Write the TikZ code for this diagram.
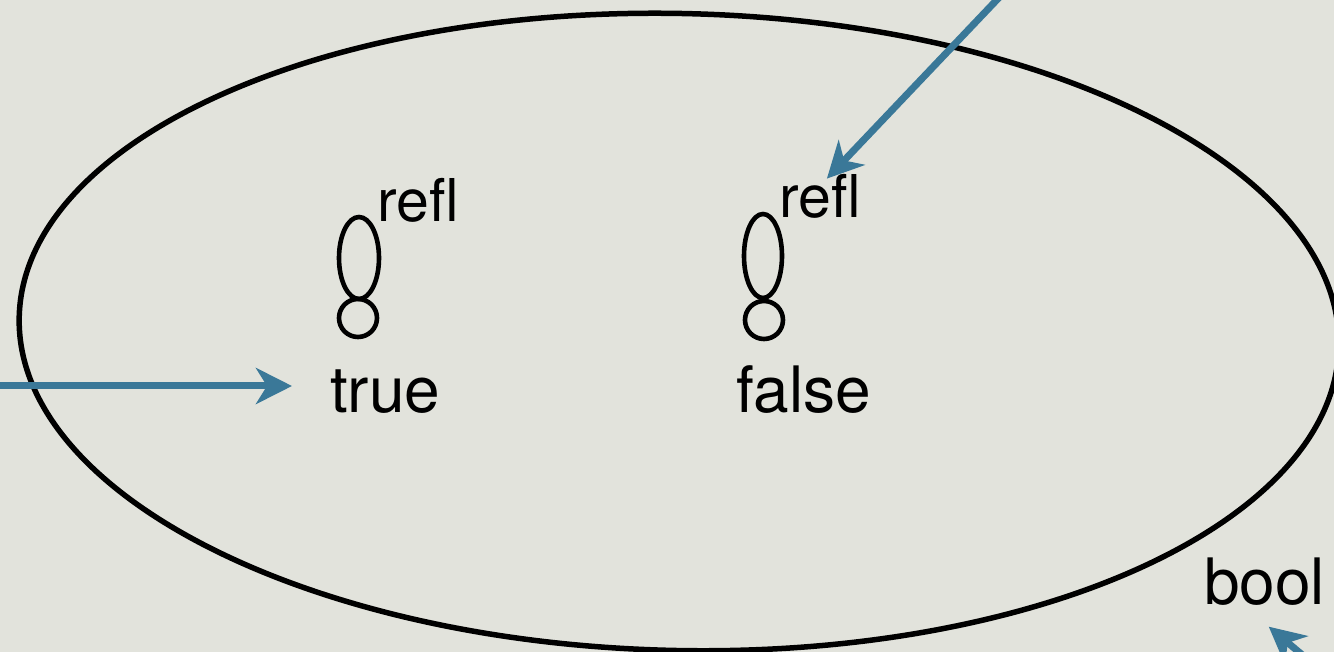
\documentclass[tikz,border=0pt]{standalone}
\usepackage{fontspec}
\setmainfont{TeX Gyre Heros}
\usetikzlibrary{arrows.meta}
\definecolor{bgc}{RGB}{226,227,220}
\definecolor{arrc}{RGB}{58,120,152}
\tikzset{
  lbl/.style={inner sep=0pt, anchor=base west, font=\fontsize{64}{70}\selectfont},
  sml/.style={inner sep=0pt, anchor=base west, font=\fontsize{59}{64}\selectfont},
  loopline/.style={line width=4.6pt},
  arr/.style={draw=arrc, line width=7pt, -{Stealth[length=36pt,width=36pt,inset=11pt]}},
}
\begin{document}
\begin{tikzpicture}[x=1pt,y=-1pt]
\useasboundingbox (0,0) rectangle (1334,652);
\fill[bgc] (0,0) rectangle (1334,652);
\clip (0,0) rectangle (1334,652);
% big ellipse
\draw[line width=5.5pt, rotate around={-1.3:(679,332)}] (679,332) ellipse [x radius=660, y radius=318.5];
% vertices and self loops
\draw[loopline] (358,318) circle [radius=19];
\draw[loopline] (359,258) ellipse [x radius=20, y radius=41];
\draw[loopline] (764,320) circle [radius=19];
\draw[loopline] (763,256) ellipse [x radius=19, y radius=42];
% labels
\node[lbl] (t) at (330,412) {true};
\node[lbl] (f) at (736,412) {false};
\node[sml] (r1) at (377,222) {refl};
\node[sml] (r2) at (779,218) {refl};
\node[lbl] (b) at (1204,604) {bool};
% arrows
\coordinate (srcL) at (-10,386);
\coordinate (srcT) at (1010,-14);
\coordinate (srcB) at (1344,690);
\draw[arr, shorten >=38pt] (srcL) -- (t.west |- srcL);
\draw[arr] (srcT) -- ([xshift=7pt,yshift=-4pt]r2.north);
\draw[arr, shorten >=21pt] (srcB) -- ([xshift=-12pt,yshift=-8pt]b.south);
\end{tikzpicture}
\end{document}
